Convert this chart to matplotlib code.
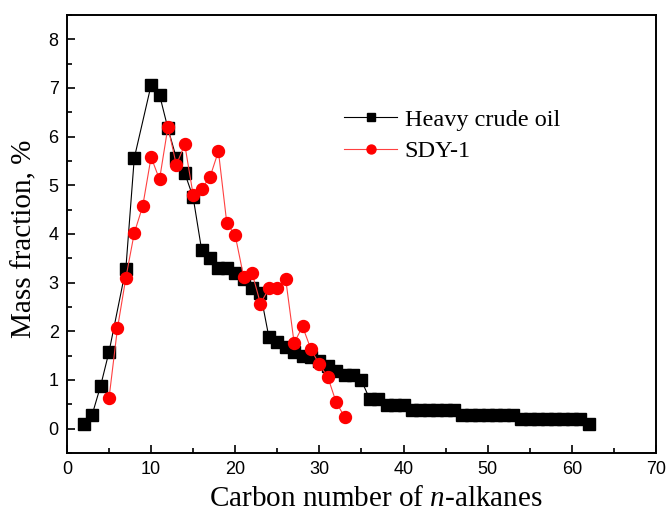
import matplotlib.pyplot as plt
from matplotlib.ticker import MultipleLocator

plt.rcParams['mathtext.fontset'] = 'custom'
plt.rcParams['mathtext.it'] = 'Liberation Serif:italic'
plt.rcParams['mathtext.rm'] = 'Liberation Serif'

# carbon numbers and mass fractions (%)
heavy_c = [2, 3, 4, 5, 7, 8, 10, 11, 12, 13, 14, 15, 16, 17, 18, 19, 20, 21, 22, 23,
           24, 25, 26, 27, 28, 29, 30, 31, 32, 33, 34, 35, 36, 37, 38, 39, 40,
           41, 42, 43, 44, 45, 46, 47, 48, 49, 50, 51, 52, 53,
           54, 55, 56, 57, 58, 59, 60, 61, 62]
heavy_w = [0.09, 0.29, 0.88, 1.58, 3.29, 5.56, 7.06, 6.86, 6.17, 5.56, 5.25, 4.75, 3.68, 3.5,
           3.3, 3.3, 3.2, 3.08, 2.89, 2.78,
           1.88, 1.79, 1.67, 1.58, 1.49, 1.47, 1.38, 1.28, 1.19, 1.1, 1.1, 0.99, 0.6, 0.6,
           0.49, 0.49, 0.49,
           0.39, 0.39, 0.39, 0.39, 0.39, 0.39, 0.29, 0.29, 0.29, 0.29, 0.29, 0.29, 0.29,
           0.19, 0.19, 0.19, 0.19, 0.19, 0.19, 0.19, 0.19, 0.09]

sdy_c = list(range(5, 34))
sdy_w = [0.63, 2.06, 3.1, 4.02, 4.57, 5.58, 5.12, 6.2, 5.42, 5.84, 4.8, 4.93, 5.17, 5.7,
         4.22, 3.97, 3.12, 3.2, 2.57, 2.88, 2.88, 3.07, 1.76, 2.1, 1.63, 1.32, 1.06, 0.54, 0.24]

fig = plt.figure(figsize=(6.67, 5.15), dpi=100)
ax = fig.add_axes([0.1004, 0.1204, 0.883, 0.8505])

ax.plot(heavy_c, heavy_w, color='black', lw=0.8, marker='s', ms=8.2,
        mec='black', mfc='black', label='Heavy crude oil')
ax.plot(sdy_c, sdy_w, color='#ff4040', lw=0.8, marker='o', ms=8.6,
        mec='red', mfc='red', label='SDY-1')

ax.set_xlim(0, 70)
ax.set_ylim(-0.5, 8.5)
ax.xaxis.set_major_locator(MultipleLocator(10))
ax.xaxis.set_minor_locator(MultipleLocator(5))
ax.yaxis.set_major_locator(MultipleLocator(1))
ax.yaxis.set_minor_locator(MultipleLocator(0.5))
ax.tick_params(which='both', direction='in', top=False, right=False, width=1.2)
ax.tick_params(which='major', length=6, labelsize=13, pad=6)
ax.tick_params(which='minor', length=3.5)
for lab in ax.get_xticklabels() + ax.get_yticklabels():
    lab.set_family('Liberation Sans')
for sp in ax.spines.values():
    sp.set_linewidth(1.4)

ax.set_xlabel('Carbon number of $\\mathit{n}$-alkanes', family='Liberation Serif', fontsize=21)
ax.set_ylabel('Mass fraction, %', family='Liberation Serif', fontsize=21)
ax.xaxis.set_label_coords(0.525, -0.075)
ax.yaxis.set_label_coords(-0.05, 0.49)

leg = ax.legend(loc='upper left', bbox_to_anchor=(0.47, 0.786), frameon=False,
                prop={'family': 'Liberation Serif', 'size': 17.5},
                handlelength=2.2, handletextpad=0.3, labelspacing=0.4, markerscale=0.75,
                borderpad=0, borderaxespad=0)

plt.savefig('out.png', dpi=100)
